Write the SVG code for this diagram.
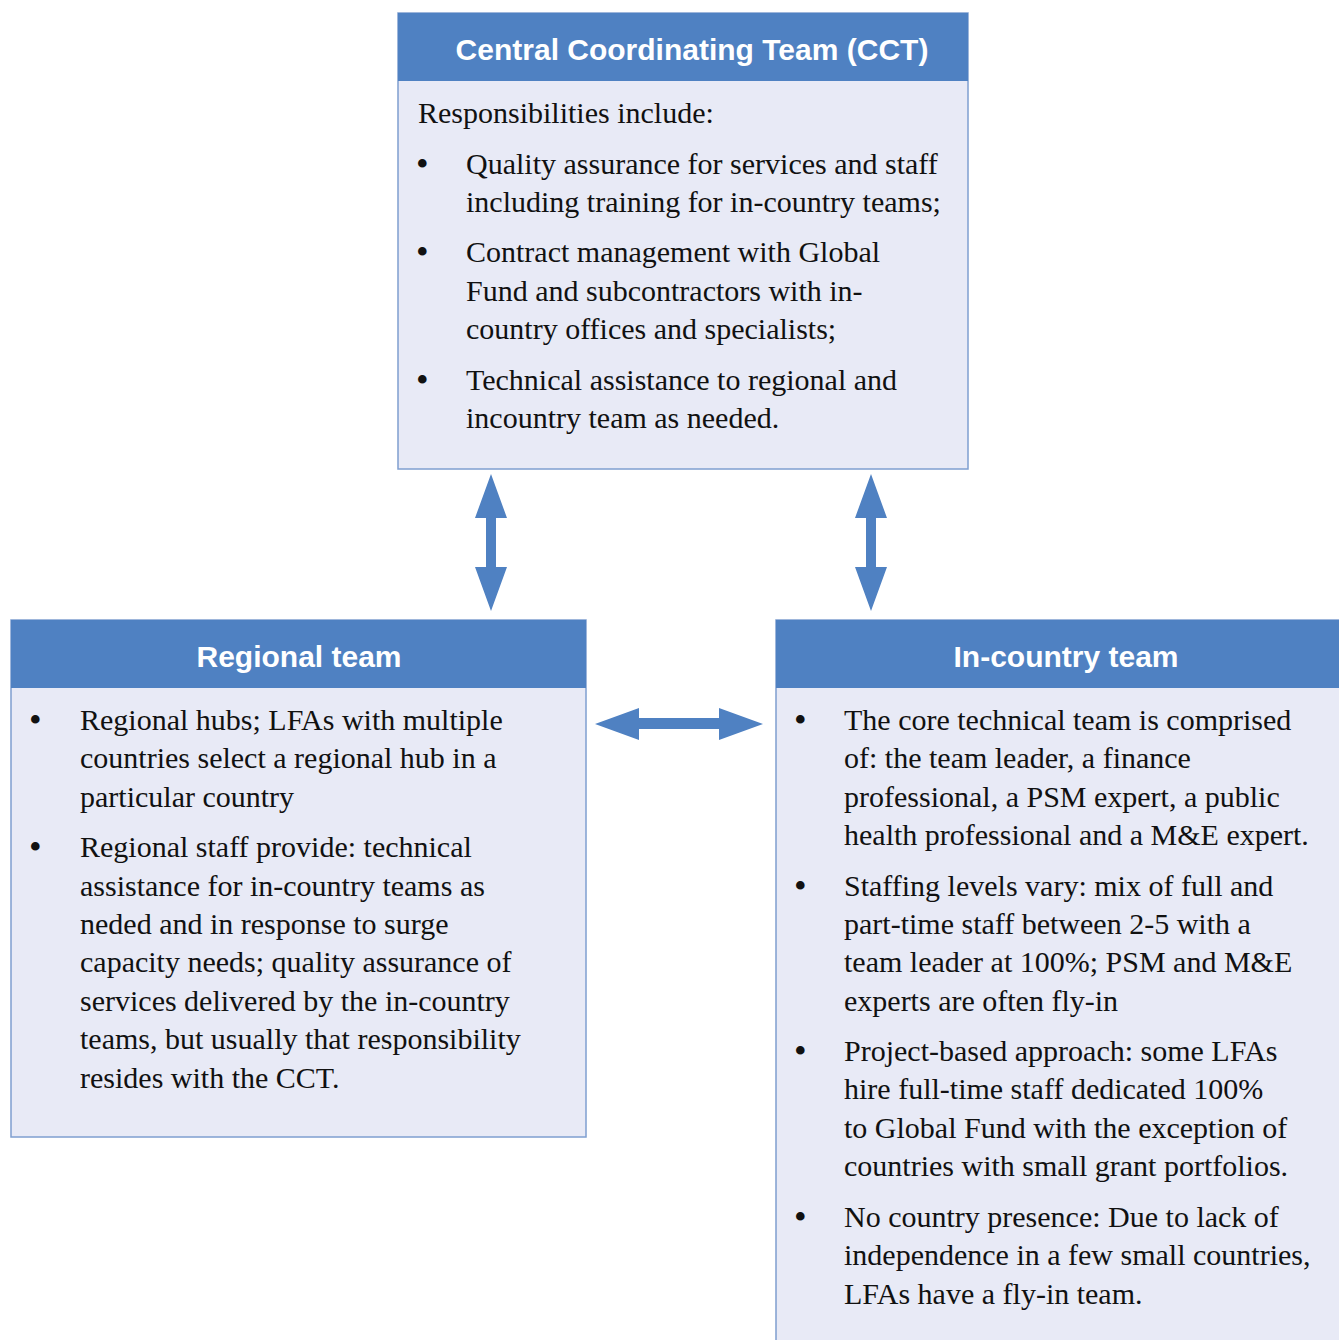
<svg xmlns="http://www.w3.org/2000/svg" width="1339" height="1340" viewBox="0 0 1339 1340">
<style>
.box{fill:#E8EAF6;stroke:#7F9FD0;stroke-width:1.5}
.hdr{fill:#4F81C2}
.ht{font-family:"Liberation Sans",Arial,sans-serif;font-weight:bold;font-size:30px;fill:#fff;text-anchor:middle}
.bt{font-family:"Liberation Serif","Times New Roman",serif;font-size:30px;fill:#111}
.bu{font-family:"Liberation Serif","Times New Roman",serif;font-size:36px;fill:#111}
.arr{fill:#4F81C2}
</style>
<rect width="1339" height="1340" fill="#fff"/>
<g id="cct">
<rect class="box" x="398" y="13" width="570" height="456"/>
<rect class="hdr" x="398" y="13" width="570" height="68"/>
<text class="ht" x="692" y="60">Central Coordinating Team (CCT)</text>
<text class="bt" x="418" y="123">Responsibilities include:</text>
<text class="bu" x="416" y="176">•</text>
<text class="bt" x="466" y="174">Quality assurance for services and staff</text>
<text class="bt" x="466" y="212">including training for in-country teams;</text>
<text class="bu" x="416" y="264">•</text>
<text class="bt" x="466" y="262">Contract management with Global</text>
<text class="bt" x="466" y="301">Fund and subcontractors with in-</text>
<text class="bt" x="466" y="339">country offices and specialists;</text>
<text class="bu" x="416" y="392">•</text>
<text class="bt" x="466" y="390">Technical assistance to regional and</text>
<text class="bt" x="466" y="428">incountry team as needed.</text>
</g>
<g id="regional">
<rect class="box" x="11" y="620" width="575" height="517"/>
<rect class="hdr" x="11" y="620" width="575" height="68"/>
<text class="ht" x="299" y="667">Regional team</text>
<text class="bu" x="29" y="732">•</text>
<text class="bt" x="80" y="730">Regional hubs; LFAs with multiple</text>
<text class="bt" x="80" y="768">countries select a regional hub in a</text>
<text class="bt" x="80" y="807">particular country</text>
<text class="bu" x="29" y="859">•</text>
<text class="bt" x="80" y="857">Regional staff provide: technical</text>
<text class="bt" x="80" y="896">assistance for in-country teams as</text>
<text class="bt" x="80" y="934">neded and in response to surge</text>
<text class="bt" x="80" y="972">capacity needs; quality assurance of</text>
<text class="bt" x="80" y="1011">services delivered by the in-country</text>
<text class="bt" x="80" y="1049">teams, but usually that responsibility</text>
<text class="bt" x="80" y="1088">resides with the CCT.</text>
</g>
<g id="incountry">
<rect class="box" x="776" y="620" width="580" height="740"/>
<rect class="hdr" x="776" y="620" width="580" height="68"/>
<text class="ht" x="1066" y="667">In-country team</text>
<text class="bu" x="794" y="732">•</text>
<text class="bt" x="844" y="730">The core technical team is comprised</text>
<text class="bt" x="844" y="768">of: the team leader, a finance</text>
<text class="bt" x="844" y="807">professional, a PSM expert, a public</text>
<text class="bt" x="844" y="845">health professional and a M&amp;E expert.</text>
<text class="bu" x="794" y="898">•</text>
<text class="bt" x="844" y="896">Staffing levels vary: mix of full and</text>
<text class="bt" x="844" y="934">part-time staff between 2-5 with a</text>
<text class="bt" x="844" y="972">team leader at 100%; PSM and M&amp;E</text>
<text class="bt" x="844" y="1011">experts are often fly-in</text>
<text class="bu" x="794" y="1063">•</text>
<text class="bt" x="844" y="1061">Project-based approach: some LFAs</text>
<text class="bt" x="844" y="1099">hire full-time staff dedicated 100%</text>
<text class="bt" x="844" y="1138">to Global Fund with the exception of</text>
<text class="bt" x="844" y="1176">countries with small grant portfolios.</text>
<text class="bu" x="794" y="1229">•</text>
<text class="bt" x="844" y="1227">No country presence: Due to lack of</text>
<text class="bt" x="844" y="1265">independence in a few small countries,</text>
<text class="bt" x="844" y="1304">LFAs have a fly-in team.</text>
</g>
<g id="connectors">
<polygon class="arr" points="491,474 507,518 496,518 496,567 507,567 491,611 475,567 486,567 486,518 475,518"/>
<polygon class="arr" points="871,474 887,518 876,518 876,567 887,567 871,611 855,567 866,567 866,518 855,518"/>
<polygon class="arr" points="595,724 639,708 639,718 719,718 719,708 763,724 719,740 719,729 639,729 639,740"/>
</g>
</svg>
